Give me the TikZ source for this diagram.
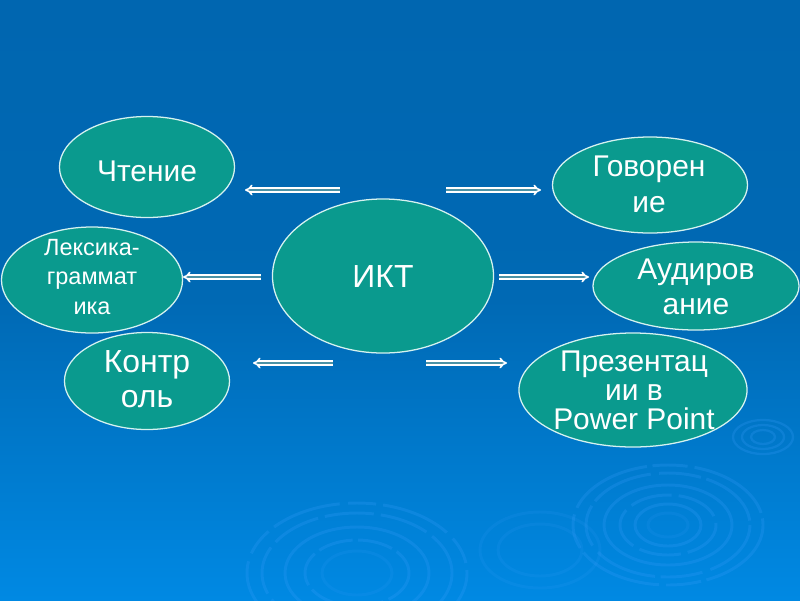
\documentclass[tikz,border=0pt]{standalone}
\usepackage{fontspec}
\setmainfont{Liberation Sans}
\usetikzlibrary{shapes.geometric,arrows.meta}
\definecolor{bgtop}{HTML}{0066B0}
\definecolor{bgmid}{HTML}{0069B4}
\definecolor{bgbot}{HTML}{0089E3}
\definecolor{teal1}{HTML}{0A9A8E}
\definecolor{rim}{HTML}{D6F2F0}
\definecolor{ripple}{HTML}{3FA0FF}
\definecolor{arrin}{HTML}{4A92A6}
\begin{document}
\begin{tikzpicture}[x=0.025cm,y=-0.025cm,
  bubble/.style={ellipse, draw=rim, line width=0.9pt, fill=teal1, inner sep=0pt},
  lbl/.style={text=white, align=center, inner sep=0pt},
  dblarrow/.style={draw=white, line width=1.1pt, double=arrin, double distance=1.4pt, -{Implies}},
  rip/.style={draw=ripple, opacity=0.22, line width=2.1pt}
]
\fill[top color=bgtop, bottom color=bgmid] (0,0) rectangle (800,300);
\fill[top color=bgmid, bottom color=bgbot] (0,300) rectangle (800,600);
\useasboundingbox (0,0) rectangle (800,600);

% ripples
\begin{scope}
\clip (0,0) rectangle (800,600);
\draw[rip, dash pattern=on 60pt off 4pt on 25pt off 5pt] (668,525) ellipse [x radius=95, y radius=60];
\draw[rip, dash pattern=on 45pt off 6pt on 30pt off 4pt] (668,525) ellipse [x radius=82, y radius=52];
\draw[rip] (668,525) ellipse [x radius=64, y radius=40];
\draw[rip, dash pattern=on 30pt off 5pt] (668,525) ellipse [x radius=48, y radius=30];
\draw[rip] (668,525) ellipse [x radius=33, y radius=21];
\draw[rip, opacity=0.12] (668,525) ellipse [x radius=20, y radius=12];
\draw[rip, dash pattern=on 50pt off 6pt on 20pt off 5pt] (357,573) ellipse [x radius=110, y radius=70];
\draw[rip, dash pattern=on 35pt off 5pt] (357,573) ellipse [x radius=95, y radius=60];
\draw[rip] (357,573) ellipse [x radius=72, y radius=46];
\draw[rip, dash pattern=on 25pt off 4pt] (357,573) ellipse [x radius=52, y radius=33];
\draw[rip, opacity=0.12] (357,573) ellipse [x radius=35, y radius=22];
\draw[rip, opacity=0.12] (540,550) ellipse [x radius=60, y radius=38];
\draw[rip, opacity=0.12] (540,550) ellipse [x radius=42, y radius=26];
\draw[rip, line width=1.6pt] (763,437) ellipse [x radius=30, y radius=17];
\draw[rip, line width=1.6pt] (763,437) ellipse [x radius=21, y radius=12];
\draw[rip, line width=1.6pt] (763,437) ellipse [x radius=12, y radius=7];
\end{scope}

% bubbles
\node[bubble, minimum width=4.375cm, minimum height=2.525cm] (chtenie) at (147,167) {};
\node[bubble, minimum width=4.875cm, minimum height=2.4cm] (govor) at (650,185) {};
\node[bubble, minimum width=5.525cm, minimum height=3.85cm] (ikt) at (383,276) {};
\node[bubble, minimum width=4.525cm, minimum height=2.65cm] (leks) at (92,280) {};
\node[bubble, minimum width=5.15cm, minimum height=2.2cm] (audir) at (696,286) {};
\node[bubble, minimum width=4.125cm, minimum height=2.425cm] (kontr) at (147,381) {};
\node[bubble, minimum width=5.7cm, minimum height=2.85cm] (prez) at (633,390) {};

% labels
\node[lbl, font=\fontsize{21.3pt}{25pt}\selectfont] (tchtenie) at (147,171) {Чтение};
\node[lbl, font=\fontsize{21.3pt}{25.5pt}\selectfont] (tgovor) at (649,184) {Говорен\\ие};
\node[lbl, font=\fontsize{22.7pt}{26pt}\selectfont] (tikt) at (383,276.5) {ИКТ};
\node[lbl, font=\fontsize{16.7pt}{20.9pt}\selectfont] (tleks) at (92,277) {Лексика-\\граммат\\ика};
\node[lbl, font=\fontsize{21.3pt}{24.8pt}\selectfont] (taudir) at (696,286.5) {Аудиров\\ание};
\node[lbl, font=\fontsize{22.7pt}{24.8pt}\selectfont] (tkontr) at (147,379) {Контр\\оль};
\node[lbl, font=\fontsize{21.3pt}{20.6pt}\selectfont] (tprez) at (634,390) {Презентац\\ии в\\Power Point};

% arrows
\coordinate (a1s) at (340,190); \coordinate (a1e) at (245,190);
\coordinate (a2s) at (446,190); \coordinate (a2e) at (541,190);
\coordinate (a3s) at (261,277); \coordinate (a3e) at (183,277);
\coordinate (a4s) at (499,277); \coordinate (a4e) at (589,277);
\coordinate (a5s) at (333,363); \coordinate (a5e) at (253,363);
\coordinate (a6s) at (426,363); \coordinate (a6e) at (507,363);
\draw[dblarrow] (a1s) -- (a1e);
\draw[dblarrow] (a2s) -- (a2e);
\draw[dblarrow] (a3s) -- (a3e);
\draw[dblarrow] (a4s) -- (a4e);
\draw[dblarrow] (a5s) -- (a5e);
\draw[dblarrow] (a6s) -- (a6e);
\end{tikzpicture}
\end{document}
